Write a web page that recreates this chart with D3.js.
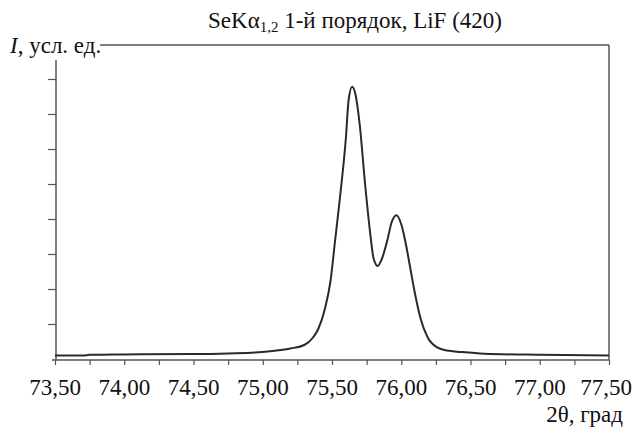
<!DOCTYPE html>
<html><head><meta charset="utf-8">
<script src="https://cdn.jsdelivr.net/npm/d3@7"></script>
<style>body{margin:0;background:#fff}svg{display:block}</style>
</head><body><svg id="c" width="634" height="428"></svg>
<script>
const twoTheta = [73.50,73.70,73.75,74.00,74.50,74.75,75.00,75.10,75.20,75.30,75.36,75.40,75.45,75.49,75.52,75.56,75.60,75.62,75.645,75.67,75.70,75.74,75.78,75.80,75.83,75.86,75.90,75.93,75.965,76.00,76.03,76.065,76.10,76.14,76.19,76.26,76.33,76.43,76.60,77.00,77.50];
const intensity = [0.10,0.10,0.12,0.13,0.14,0.16,0.20,0.24,0.30,0.40,0.60,0.85,1.45,2.25,3.30,4.70,6.30,7.40,7.78,7.55,6.70,4.95,3.45,2.88,2.66,2.86,3.40,3.90,4.11,3.85,3.35,2.60,1.85,1.15,0.62,0.33,0.24,0.20,0.15,0.12,0.10];
const xTickValues = [73.5,74.0,74.5,75.0,75.5,76.0,76.5,77.0,77.5];
const xTickLabels = ["73,50","74,00","74,50","75,00","75,50","76,00","76,50","77,00","77,50"];
const xMinorTicks = [73.75,74.25,74.75,75.25,75.75,76.25,76.75,77.25];
const yTickValues = [1,2,3,4,5,6,7,8];
const titleMain = "SeKα", titleSub = "1,2", titleRest = " 1-й порядок, LiF (420)";
const yLabel = ", усл. ед.", xLabel = "2θ, град";

const FONT = "'Liberation Serif', 'Times New Roman', Tinos, 'DejaVu Serif', serif";
const svg = d3.select("#c");
const x = d3.scaleLinear().domain([73.5,77.5]).range([55,609]);
const y = d3.scaleLinear().domain([0,8]).range([359,79]);
const axisColor = "#555";

// frame lines
svg.append("line").attr("x1",100).attr("x2",x(77.5)).attr("y1",45).attr("y2",45).attr("stroke",axisColor).attr("stroke-width",1.5);
svg.append("line").attr("x1",x(77.5)).attr("x2",x(77.5)).attr("y1",45).attr("y2",360).attr("stroke",axisColor).attr("stroke-width",1.5);

// x axis
const xAxis = svg.append("g").attr("transform","translate(0,360)")
  .call(d3.axisBottom(x).tickValues(xTickValues.concat(xMinorTicks)).tickSize(5).tickFormat(""));
xAxis.select(".domain").attr("d","M52,0H609").attr("stroke",axisColor).attr("stroke-width",1.5);
xAxis.selectAll(".tick line").attr("stroke",axisColor).attr("stroke-width",1.2);
svg.append("g").selectAll("text").data(xTickValues).join("text")
  .attr("x",(d,i)=> i===xTickValues.length-1 ? 632 : x(d))
  .attr("y",395)
  .attr("text-anchor",(d,i)=> i===xTickValues.length-1 ? "end" : "middle")
  .style("font-family",FONT).style("font-size","23px").attr("fill","#111")
  .text((d,i)=>xTickLabels[i]);

// y axis
const yAxis = svg.append("g").attr("transform","translate(56,0)")
  .call(d3.axisLeft(y).tickValues(yTickValues).tickSize(8).tickFormat(""));
yAxis.select(".domain").attr("d","M0,60V360").attr("stroke",axisColor).attr("stroke-width",1.5);
yAxis.selectAll(".tick line").attr("stroke",axisColor).attr("stroke-width",1.2);

// curve
const pts = twoTheta.map((t,i)=>[t,intensity[i]]);
svg.append("path").datum(pts)
  .attr("d",d3.line().x(d=>x(d[0])).y(d=>y(d[1])).curve(d3.curveMonotoneX))
  .attr("fill","none").attr("stroke","#2a2a2a").attr("stroke-width",2);

// title
const t = svg.append("text").attr("x",355).attr("y",28).attr("text-anchor","middle")
  .style("font-family",FONT).style("font-size","23px").attr("fill","#111");
t.append("tspan").text(titleMain);
t.append("tspan").style("font-size","15px").attr("dy",4).text(titleSub);
t.append("tspan").attr("dy",-4).text(titleRest);

// y label
const yl = svg.append("text").attr("x",10).attr("y",53)
  .style("font-family",FONT).style("font-size","23px").attr("fill","#111");
yl.append("tspan").style("font-style","italic").text("I");
yl.append("tspan").text(yLabel);

// x label
svg.append("text").attr("x",623).attr("y",422).attr("text-anchor","end")
  .style("font-family",FONT).style("font-size","23px").attr("fill","#111").text(xLabel);
</script></body></html>
